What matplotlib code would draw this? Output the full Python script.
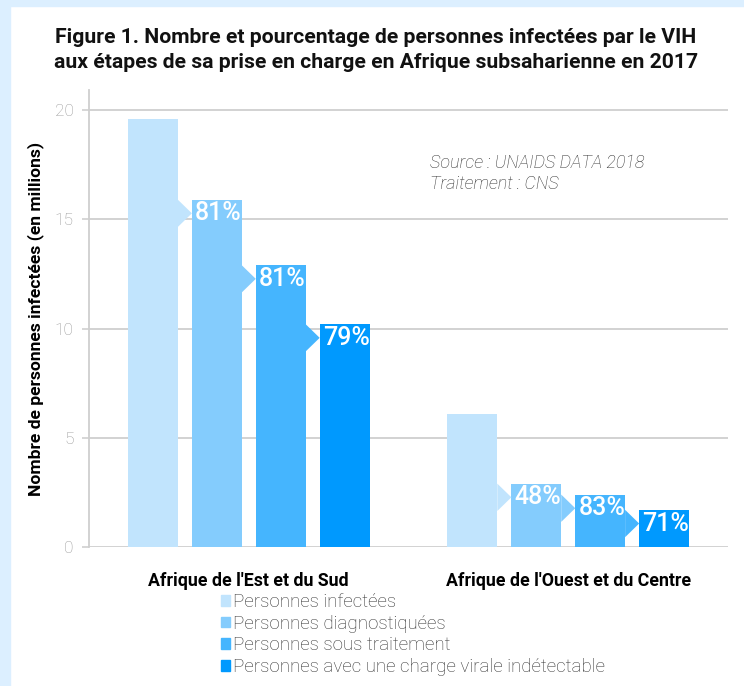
import matplotlib.pyplot as plt
from matplotlib.patches import Rectangle, Patch
import numpy as np

plt.rcParams["font.family"] = ["Roboto", "DejaVu Sans"]

# data
regions = ["Afrique de l'Est et du Sud", "Afrique de l'Ouest et du Centre"]
stages = ["Personnes infectées", "Personnes diagnostiquées",
          "Personnes sous traitement",
          "Personnes avec une charge virale indétectable"]
east = [19.6, 15.9, 12.9, 10.2]
west = [6.1, 2.9, 2.4, 1.7]
east_pct = ["81%", "81%", "79%"]
west_pct = ["48%", "83%", "71%"]
yticks = [0, 5, 10, 15, 20]

colors = ["#c1e4fd", "#84ccfd", "#45b5fe", "#0099fe"]
grid_col = "#cfcfcf"

fig = plt.figure(figsize=(7.44, 6.86), dpi=100, facecolor="w")
# light blue frame left/top
fig.patches.append(Rectangle((0, 0), 10/744, 1, transform=fig.transFigure,
                             color="#dcefff", zorder=0))
fig.patches.append(Rectangle((0, 1-6/686), 1, 6/686, transform=fig.transFigure,
                             color="#dcefff", zorder=0))

ax = fig.add_axes([89/744, 1-547/686, 639/744, 457/686])
ax.set_xlim(0, 10)
ax.set_ylim(0, 20.92)

width = 0.78
offsets = np.array([-1.5, -0.5, 0.5, 1.5])
centers = [2.5, 7.5]

for c, vals, pcts in zip(centers, [east, west], [east_pct, west_pct]):
    xs = c + offsets
    ax.bar(xs, vals, width=width, color=colors, zorder=2)
    tri_h = 1.25
    for i in range(1, 4):
        x0 = xs[i-1] + width/2
        x1 = xs[i] - width/2
        top = vals[i]
        ax.fill([x0, x1, x0], [top, top - tri_h/2, top - tri_h],
                color=colors[i-1], lw=0, zorder=2)
        ax.text(x1 + 0.05, top - tri_h/2, pcts[i-1], color="white",
                fontsize=18, fontweight="medium", va="center", ha="left",
                zorder=3)

ax.set_yticks(yticks)
ax.set_xticks(centers)
ax.set_xticklabels(regions, fontsize=12.8, fontweight="bold")
ax.tick_params(axis="x", length=0, pad=18)
ax.tick_params(axis="y", length=5, width=1.2, color=grid_col,
               labelcolor="#999999", labelsize=12.5, pad=6)
for lb in ax.get_yticklabels():
    lb.set_fontweight("light")
ax.yaxis.grid(True, color=grid_col, lw=1.3, zorder=0)
ax.set_axisbelow(True)
for s in ["top", "right", "bottom"]:
    ax.spines[s].set_visible(False)
ax.spines["left"].set_color(grid_col)
ax.spines["left"].set_linewidth(1.3)

ax.set_ylabel("Nombre de personnes infectées (en millions)", fontsize=12.6,
              fontweight="bold", labelpad=8)

fig.text(376/744, 1-50/686,
         "Figure 1. Nombre et pourcentage de personnes infectées par le VIH\n"
         "aux étapes de sa prise en charge en Afrique subsaharienne en 2017",
         ha="center", va="center", fontsize=15.2, fontweight="bold",
         linespacing=1.36, color="#111111")

ax.text(0.534, 0.86, "Source : UNAIDS DATA 2018\nTraitement : CNS",
        transform=ax.transAxes, fontsize=13, style="italic", color="#333333",
        va="top", ha="left", linespacing=1.25, fontweight="light")

handles = [Patch(color=col) for col in colors]
leg = fig.legend(handles, stages, loc="upper left",
                 bbox_to_anchor=(204/744, 1-576/686), frameon=False,
                 fontsize=13.5, handlelength=0.5, handleheight=0.5,
                 handletextpad=0.15, labelspacing=0.2, labelcolor="#333333")
for t in leg.get_texts():
    t.set_fontweight("light")

fig.savefig("out.png", dpi=100, facecolor="w")
